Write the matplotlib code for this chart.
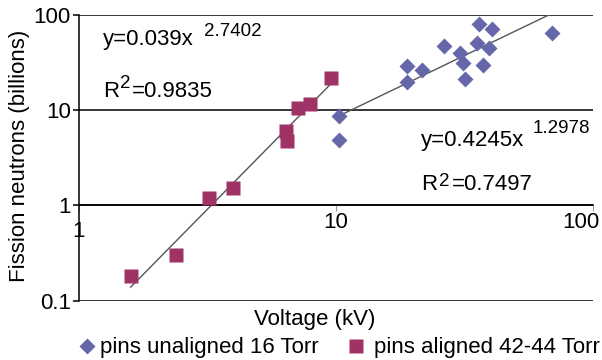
import numpy as np
import matplotlib.pyplot as plt
from matplotlib.ticker import FixedLocator, NullLocator

plt.rcParams["font.family"] = ["Liberation Sans", "DejaVu Sans"]

# pins unaligned 16 Torr (diamonds)
unaligned_kv = [10.3, 10.3, 18.9, 18.9, 21.6, 26.3, 30.4, 31.2, 31.8, 36.0, 35.4, 37.3, 39.4, 40.5, 69.2]
unaligned_n = [8.75, 4.9, 19.9, 29.3, 26.6, 47.6, 40.2, 31.6, 21.4, 81.0, 51.2, 30.0, 45.4, 71.8, 65.2]

# pins aligned 42-44 Torr (squares)
aligned_kv = [1.59, 2.38, 3.2, 3.97, 6.39, 6.45, 7.11, 7.92, 9.56]
aligned_n = [0.183, 0.30, 1.2, 1.53, 6.1, 4.8, 10.6, 11.7, 21.9]

# power-law trendlines y = a * x^b
fit_aligned = (0.039, 2.7402)
fit_unaligned = (0.4245, 1.2978)
r2_aligned = 0.9835
r2_unaligned = 0.7497

FS = 16

fig = plt.figure(figsize=(6.02, 3.6), dpi=100)
ax = fig.add_axes([0.1312, 0.1647, 0.8538, 0.7936])
ax.set_xscale("log")
ax.set_yscale("log")
ax.set_xlim(1, 100)
ax.set_ylim(0.1, 100)

# horizontal gridlines
for g in [0.1, 1, 10, 100]:
    ax.axhline(g, color="black", lw=1.1, zorder=1)

# trendlines
xa = np.geomspace(min(aligned_kv), max(aligned_kv), 50)
ax.plot(xa, fit_aligned[0] * xa ** fit_aligned[1], color="#555555", lw=1.0, zorder=2)
xu = np.geomspace(min(unaligned_kv), max(unaligned_kv), 50)
ax.plot(xu, fit_unaligned[0] * xu ** fit_unaligned[1], color="#555555", lw=1.0, zorder=2)

ax.plot(unaligned_kv, unaligned_n, "D", color="#6666aa", ms=8, mec="none", zorder=3,
        label="pins unaligned 16 Torr")
ax.plot(aligned_kv, aligned_n, "s", color="#a03366", ms=10.5, mec="none", zorder=3,
        label="pins aligned 42-44 Torr")

# spines: left only, x axis crosses at y = 1
for s in ["top", "right"]:
    ax.spines[s].set_visible(False)
ax.spines["bottom"].set_position(("data", 1))
ax.spines["bottom"].set_linewidth(1.1)
ax.spines["left"].set_linewidth(1.1)

ax.xaxis.set_major_locator(FixedLocator([1, 10, 100]))
ax.xaxis.set_minor_locator(NullLocator())
ax.set_xticklabels(["1", "10", ""])
ax.tick_params(axis="x", length=4, color="#999999", labelsize=FS, pad=0.5)
ax.xaxis.get_major_ticks()[0].set_pad(7)
ax.annotate("100", (100, 1), xytext=(-12, -7), textcoords="offset pixels",
            fontsize=FS, ha="center", va="top", annotation_clip=False)

ax.yaxis.set_major_locator(FixedLocator([0.1, 1, 10, 100]))
ax.yaxis.set_minor_locator(NullLocator())
ax.set_yticklabels(["0.1", "1", "10", "100"])
ax.tick_params(axis="y", length=4.5, width=1.1, labelsize=FS, pad=1.5)

fig.text(20 / 602, 1 - 156 / 360, "Fission neutrons (billions)", fontsize=FS,
         rotation=90, ha="center", va="center")
fig.text(315 / 602, 1 - 320 / 360, "Voltage (kV)", fontsize=FS, ha="center", va="center")

renderer = fig.canvas.get_renderer()


def eq_text(x, y, pieces):
    # pieces: (text, size, gap in px before, rise in px)
    off = 0
    for s, fs, gap, rise in pieces:
        off += gap
        t = ax.annotate(s, (x, y), xytext=(off, rise), textcoords="offset pixels",
                        fontsize=fs, ha="left", va="baseline")
        off += t.get_window_extent(renderer).width


eq_text(1.24, 48.8, [(f"y={fit_aligned[0]}x", FS, 0, 0), (f"{fit_aligned[1]}", 13.5, 10, 9)])
eq_text(1.24, 13.9, [("R", FS, 0, 0), ("2", 13.5, 1, 9), (f"={r2_aligned}", FS, 1, 0)])
eq_text(21.4, 4.24, [(f"y={fit_unaligned[0]}x", FS, 0, 0), (f"{fit_unaligned[1]}", 13.5, 8, 13)])
eq_text(21.4, 1.46, [("R", FS, 0, 0), ("2", 13.5, 2, 4), (f"={r2_unaligned}", FS, 2, 0)])

# legend entries below the plot
h_un, h_al = ax.get_lines()[-2:]
fig.legend([h_un], [h_un.get_label()], loc="center left", bbox_to_anchor=(76 / 602, 1 - 348 / 360),
           frameon=False, fontsize=FS, borderpad=0, borderaxespad=0,
           handlelength=1.0, handletextpad=0.08)
fig.legend([h_al], [h_al.get_label()], loc="center left", bbox_to_anchor=(345 / 602, 1 - 348 / 360),
           frameon=False, fontsize=FS, borderpad=0, borderaxespad=0,
           handlelength=1.0, handletextpad=0.3)

fig.savefig("out.png", dpi=100)
